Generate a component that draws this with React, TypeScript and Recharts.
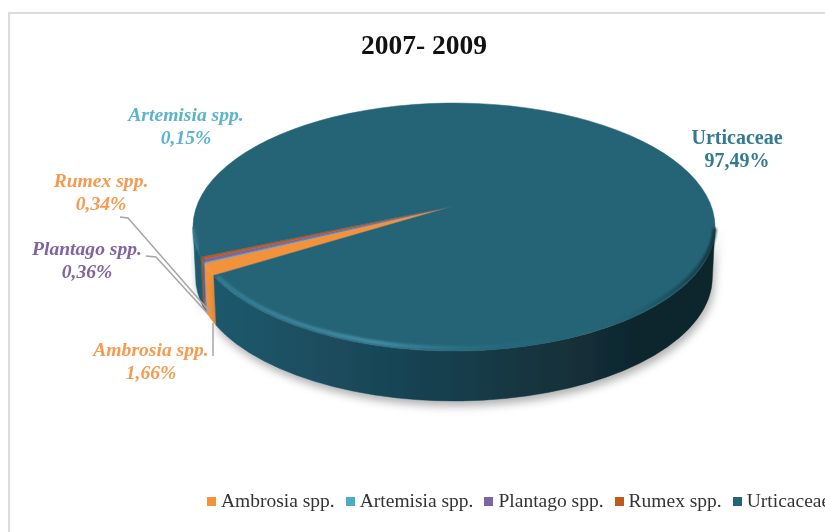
import { Cell, Legend, Pie, PieChart } from "recharts";

const TAXA = ["Ambrosia spp.", "Artemisia spp.", "Plantago spp.", "Rumex spp.", "Urticaceae"];
const SHARES = [1.66, 0.15, 0.36, 0.34, 97.49];
const FILLS = ["#f4923c", "#4bacc6", "#7d62a6", "#bd5a1c", "#256476"];
const LABEL_COLORS = ["#f79a4e", "#5cb4cc", "#8064a2", "#f79a4e", "#337a90"];

const data = TAXA.map((name, i) => ({ name, value: SHARES[i] }));

// where each label sits, and its leader line if it has one
const LABEL_SPOTS: Record<string, { x: number; y: number; line?: string }> = {
  "Ambrosia spp.": { x: 151, y: 356, line: "213,323 213,356" },
  "Artemisia spp.": { x: 186, y: 121 },
  "Plantago spp.": { x: 87, y: 255, line: "146,256 156,257 208,314" },
  "Rumex spp.": { x: 101, y: 187, line: "120,217 128,218 210,312" },
  Urticaceae: { x: 737, y: 144 },
};

const SQUASH = 0.475; // tilt of the pie
const DEPTH = 50;
const APEX_SHIFT = 21;
const BASE_SCALE = 0.99; // far edge of the wall reads a bit narrower

const FONT = "'Liberation Serif', serif";
const rad = (a: number) => (a * Math.PI) / 180;

function Slice3D(props: any) {
  const { cx, cy, outerRadius: rx, startAngle, endAngle, fill, name } = props;
  const ry = rx * SQUASH;
  const rim = (a: number, dy = 0) =>
    `${cx + rx * Math.cos(rad(a))} ${cy - ry * Math.sin(rad(a)) + dy}`;
  const base = (a: number) =>
    `${cx + rx * BASE_SCALE * Math.cos(rad(a))} ${cy - ry * Math.sin(rad(a)) + DEPTH}`;
  const hi = Math.max(startAngle, endAngle);
  const lo = Math.min(startAngle, endAngle);
  const large = hi - lo > 180 ? 1 : 0;

  // the side wall only shows on the front half of the rim
  const walls: [number, number][] = [];
  for (let k = -1; k <= 1; k++) {
    const a = Math.min(hi, 360 + 360 * k);
    const b = Math.max(lo, 180 + 360 * k);
    if (a > b) walls.push([a, b]);
  }
  const isMain = name === "Urticaceae";

  return (
    <g>
      {walls.map(([a, b]) => (
        <path
          key={a}
          d={`M${rim(a)} A${rx} ${ry} 0 0 1 ${rim(b)} L${base(b)} A${rx * BASE_SCALE} ${ry} 0 0 0 ${base(a)} Z`}
          fill={isMain ? "url(#wallShade)" : fill}
          stroke={isMain ? "url(#wallShade)" : fill}
          strokeWidth={0.5}
          filter={isMain ? "url(#pieShadow)" : undefined}
        />
      ))}
      <path
        d={`M${cx} ${cy - APEX_SHIFT} L${rim(hi)} A${rx} ${ry} 0 ${large} 1 ${rim(lo)} Z`}
        fill={fill}
        stroke={fill}
        strokeWidth={0.5}
      />
      {walls.map(([a, b]) => (
        <path
          key={a}
          d={`M${rim(a - 2, -3)} A${rx} ${ry} 0 0 1 ${rim(b + 2, -3)}`}
          fill="none"
          stroke={isMain ? "url(#rimShade)" : "none"}
          strokeWidth={4}
          filter="url(#softEdge)"
        />
      ))}
    </g>
  );
}

function sliceLabel(props: any) {
  const { name, value, index } = props;
  const spot = LABEL_SPOTS[name];
  const isMain = name === "Urticaceae";
  return (
    <g key={name}>
      {spot.line && (
        <polyline points={spot.line} fill="none" stroke="#a6a6a6" strokeWidth={1.5} />
      )}
      <text
        x={spot.x}
        y={spot.y}
        textAnchor="middle"
        fontFamily={FONT}
        fontSize={isMain ? 20 : 19.6}
        fontWeight="bold"
        fontStyle={isMain ? "normal" : "italic"}
        fill={LABEL_COLORS[index]}
      >
        <tspan x={spot.x}>{name}</tspan>
        <tspan x={spot.x} dy={22.5}>
          {value.toFixed(2).replace(".", ",")}%
        </tspan>
      </text>
    </g>
  );
}

function LegendRow({ payload }: any) {
  return (
    <div
      style={{
        display: "flex",
        gap: 11,
        fontFamily: FONT,
        fontSize: 19.5,
        lineHeight: "22px",
        color: "#333",
        whiteSpace: "nowrap",
        alignItems: "center",
      }}
    >
      {(payload ?? []).map((p: any) => (
        <span key={p.value} style={{ display: "flex", alignItems: "center", gap: 5 }}>
          <span style={{ width: 9, height: 9, background: p.color, display: "inline-block" }} />
          {p.value}
        </span>
      ))}
    </div>
  );
}

export default function App() {
  return (
    <div
      style={{
        position: "absolute",
        left: 0,
        top: 0,
        width: 825,
        height: 532,
        overflow: "hidden",
        background: "#fff",
        filter: "blur(0.6px)",
      }}
    >
      <div
        style={{
          position: "absolute",
          left: 8,
          top: 12,
          right: -4,
          bottom: -4,
          borderLeft: "2px solid #dcdcdc",
          borderTop: "2px solid #dcdcdc",
        }}
      />
      <div style={{ position: "absolute", left: 0, top: 0 }}>
        <PieChart width={825} height={532} margin={{ top: 0, right: 0, bottom: 0, left: 0 }}>
          <defs>
            <linearGradient id="wallShade" gradientUnits="userSpaceOnUse" x1={193} y1={0} x2={715} y2={0}>
              <stop offset="0%" stopColor="#1f5b6f" />
              <stop offset="30%" stopColor="#1a4a5b" />
              <stop offset="60%" stopColor="#153843" />
              <stop offset="85%" stopColor="#10272f" />
              <stop offset="100%" stopColor="#0f252c" />
            </linearGradient>
            <linearGradient id="rimShade" gradientUnits="userSpaceOnUse" x1={193} y1={0} x2={715} y2={0}>
              <stop offset="0%" stopColor="#3f8ca6" stopOpacity={0.5} />
              <stop offset="35%" stopColor="#4791ab" stopOpacity={0.9} />
              <stop offset="55%" stopColor="#2f7a93" stopOpacity={0.3} />
              <stop offset="75%" stopColor="#256476" stopOpacity={0} />
              <stop offset="100%" stopColor="#12303a" stopOpacity={0.9} />
            </linearGradient>
            <filter id="pieShadow" x="-10%" y="-20%" width="120%" height="150%">
              <feDropShadow dx={2} dy={5} stdDeviation={4} floodColor="#000" floodOpacity={0.3} />
            </filter>
            <filter id="softEdge" x="-5%" y="-20%" width="110%" height="140%">
              <feGaussianBlur stdDeviation={1} />
            </filter>
          </defs>
          <text
            x={424}
            y={54}
            textAnchor="middle"
            fontFamily={FONT}
            fontSize={27.5}
            fontWeight="bold"
            fill="#111"
          >
            2007- 2009
          </text>
          <Pie
            data={data}
            dataKey="value"
            nameKey="name"
            cx={454}
            cy={227}
            innerRadius={0}
            outerRadius={261}
            startAngle={203}
            endAngle={-157}
            paddingAngle={0}
            stroke="none"
            isAnimationActive={false}
            shape={Slice3D}
            label={sliceLabel}
            labelLine={false}
          >
            {data.map((d, i) => (
              <Cell key={d.name} fill={FILLS[i]} />
            ))}
          </Pie>
          <Legend
            content={<LegendRow />}
            wrapperStyle={{ position: "absolute", left: 207, top: 490, width: 630, bottom: "auto" }}
          />
        </PieChart>
      </div>
    </div>
  );
}
